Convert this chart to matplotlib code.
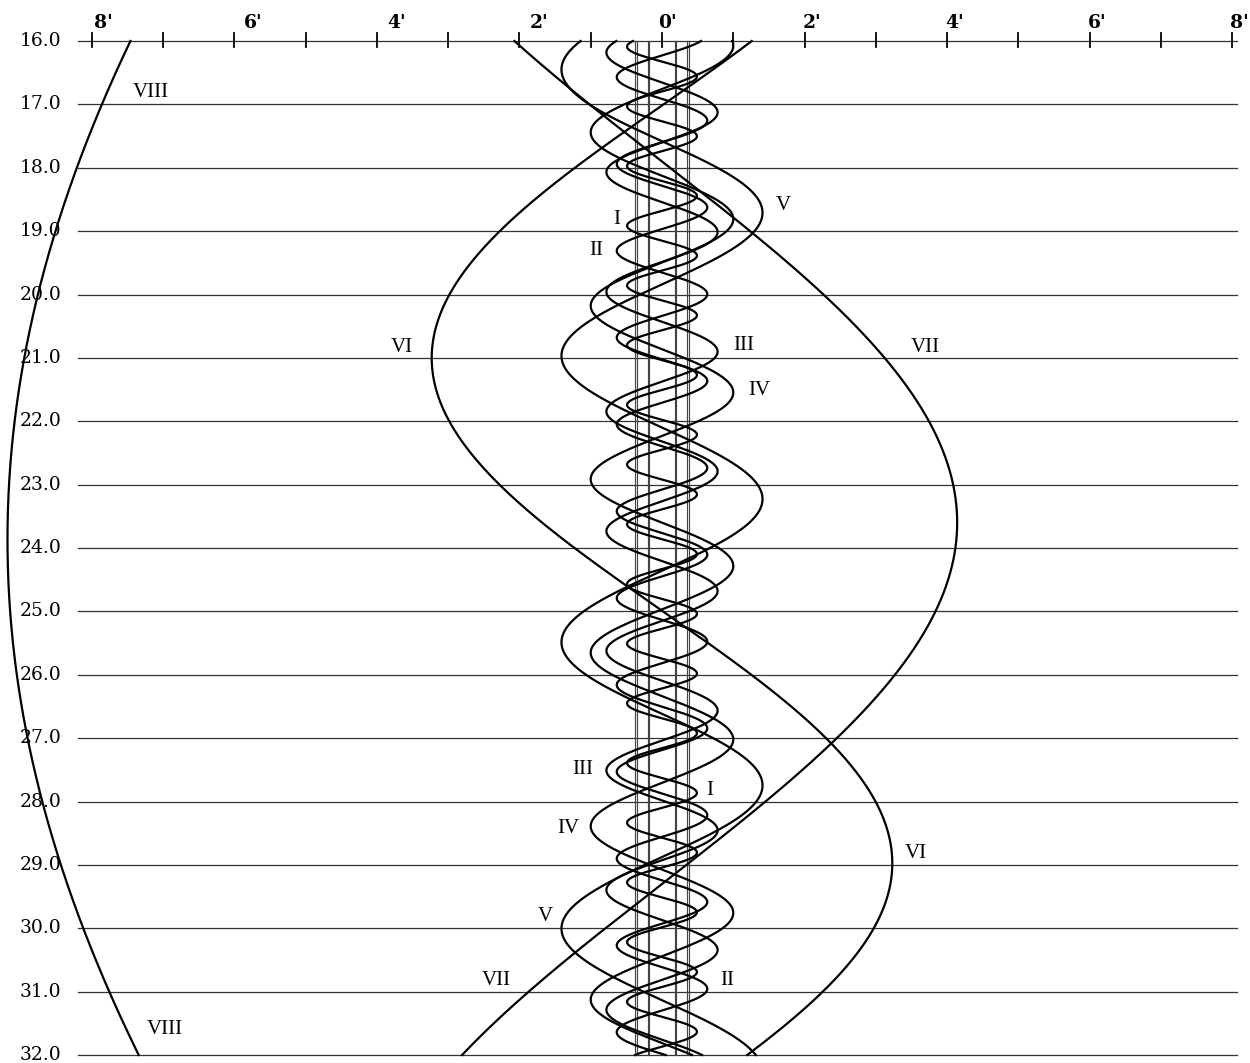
import numpy as np
import matplotlib
matplotlib.use("Agg")
import matplotlib.pyplot as plt

# Saturn satellites: east-west offset (arcmin) against day of month
moons = ['I', 'II', 'III', 'IV', 'V', 'VI', 'VII', 'VIII']
amp = [0.49, 0.635, 0.78, 1.0, 1.41, 3.23, 4.14, 9.18]          # arcmin
period = [0.942, 1.370, 1.888, 2.737, 4.518, 15.945, 22.8, 79.33]  # days
t_east = [16.56, 17.255, 17.126, 18.81, 18.71, 13.03, 23.6, -15.8]

days = list(range(16, 33))
ring_edges = [-0.365, -0.187, 0.187, 0.365]
arc_ticks = list(range(-8, 9))
arc_labels = ["8'", "6'", "4'", "2'", "0'", "2'", "4'", "6'", "8'"]
arc_label_pos = [-8, -6, -4, -2, 0, 2, 4, 6, 8]
arc_label_shift = [0.04, 0.13, 0.15, 0.14, -0.06, -0.03, -0.03, -0.03, -0.04]

# label text, x (arcmin), day
labels = [('VIII', -7.17, 16.82), ('I', -0.63, 18.81), ('II', -0.92, 19.30),
          ('V', 1.70, 18.6), ('III', 1.14, 20.81), ('IV', 1.36, 21.51),
          ('VI', -3.65, 20.83), ('VII', 3.7, 20.83), ('III', -1.11, 27.5),
          ('I', 0.67, 27.82), ('IV', -1.32, 28.42), ('V', -1.64, 29.81),
          ('VI', 3.56, 28.82), ('VII', -2.32, 30.82), ('II', 0.91, 30.82),
          ('VIII', -6.97, 31.6)]

fig = plt.figure(figsize=(12.5, 10.63), dpi=100)
ax = fig.add_axes([0, 0, 1, 1])
ax.set_xlim(-9.285, 8.247)
ax.set_ylim(32.126, 15.353)
ax.axis('off')

# day lines
for d in days:
    ax.plot([-8.19, 8.06], [d, d], color='#333333', lw=0.9, zorder=1)
    ax.text(-8.42, d, '%.1f' % d, ha='right', va='center',
            fontsize=13.5, family='DejaVu Serif', zorder=0)

# top scale ticks and labels
for a in arc_ticks:
    ax.plot([a, a], [15.874, 16.095], color='black', lw=1.3, zorder=2)
for lab, a, s in zip(arc_labels, arc_label_pos, arc_label_shift):
    ax.text(a + s, 15.72, lab, ha='left', va='center', fontsize=13.5,
            fontweight='bold', family='DejaVu Serif')

# globe and ring edges
for r in ring_edges:
    for off in (-0.009, 0.009):
        ax.plot([r + off, r + off], [16, 32], color='#444444', lw=0.85, zorder=2)

# satellite tracks
t = np.linspace(16, 32, 6000)
for a, p, t0 in zip(amp, period, t_east):
    x = a * np.cos(2 * np.pi * (t - t0) / p)
    ax.plot(x, t, color='black', lw=1.6, zorder=3)

for txt, x, y in labels:
    ax.text(x, y, txt, ha='center', va='center', fontsize=15,
            family='Liberation Serif', zorder=4)

fig.savefig('out.png', dpi=100)
